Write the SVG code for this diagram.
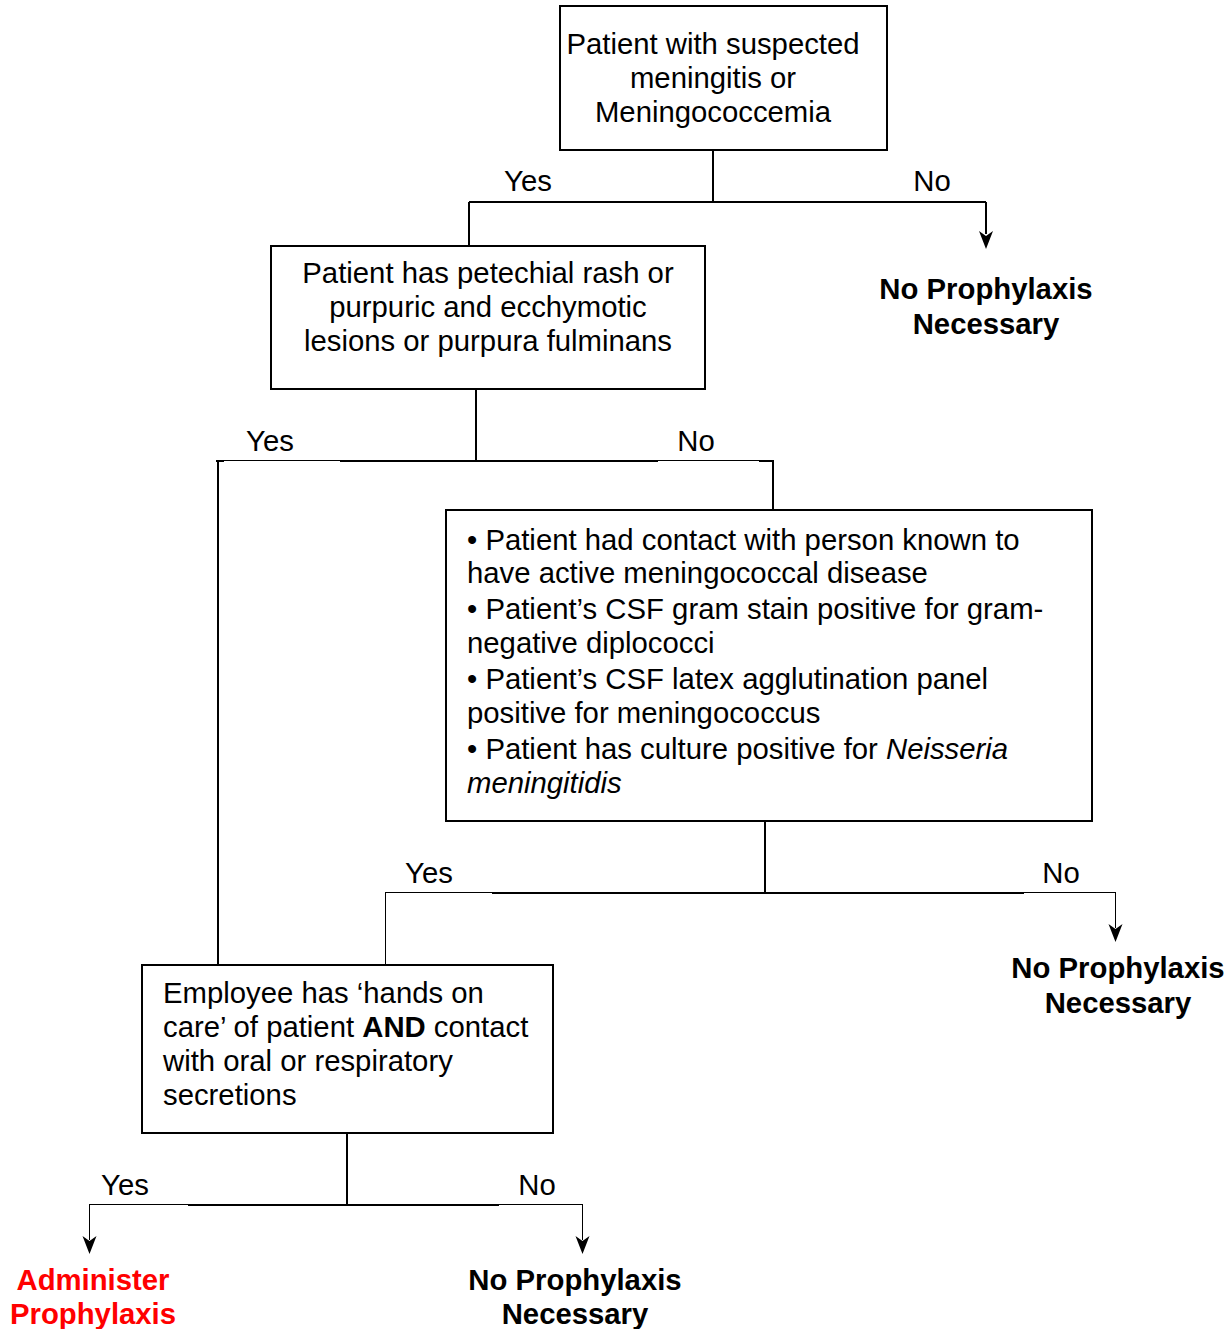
<svg xmlns="http://www.w3.org/2000/svg" width="1229" height="1329" viewBox="0 0 1229 1329">
<style>
text{font-family:"Liberation Sans",Arial,sans-serif;font-size:29.3px;fill:#000}
.c{text-anchor:middle}
.b{font-weight:bold}
.r{fill:#ff0000}
.box{fill:#fff;stroke:#000;stroke-width:2}
.k{stroke:#000;stroke-width:2;fill:none}
.t{stroke:#000;stroke-width:1;fill:none}
.ah{fill:#000}
</style>
<g id="connectors">
<path class="k" d="M713,150 V202 M469,202 H986 M469,202 V246"/>
<path class="k" d="M986,202 V234"/>
<path class="ah" d="M979,231 L986,249 L993,231 L986,236 Z"/>
<path class="k" d="M476,389 V461 M340,461 H658 M216,461 H224 M759,461 H774 M773,461 V510"/>
<path class="t" d="M224,460.5 H340 M658,460.5 H759"/>
<path class="k" d="M218,461 V965"/>
<path class="k" d="M765,821 V893 M492,893 H1024"/>
<path class="t" d="M385,892.5 H492 M1024,892.5 H1115.5 M385.5,892 V965 M1115.5,892 V928"/>
<path class="ah" d="M1108.5,924 L1115.5,942 L1122.5,924 L1115.5,929 Z"/>
<path class="k" d="M347,1133 V1205 M188,1205 H499"/>
<path class="t" d="M89,1204.5 H188 M499,1204.5 H582.5 M89.5,1204 V1240 M582.5,1204 V1240"/>
<path class="ah" d="M82.5,1236 L89.5,1254 L96.5,1236 L89.5,1241 Z"/>
<path class="ah" d="M575.5,1236 L582.5,1254 L589.5,1236 L582.5,1241 Z"/>
<text x="528" y="191" class="c">Yes</text>
<text x="932" y="191" class="c">No</text>
<text x="270" y="451" class="c">Yes</text>
<text x="696" y="451" class="c">No</text>
<text x="429" y="883" class="c">Yes</text>
<text x="1061" y="883" class="c">No</text>
<text x="125" y="1195" class="c">Yes</text>
<text x="537" y="1195" class="c">No</text>
</g>
<g id="n1">
<rect class="box" x="560" y="6" width="327" height="144"/>
<text x="713" y="54" class="c">Patient with suspected</text>
<text x="713" y="88" class="c">meningitis or</text>
<text x="713" y="122" class="c">Meningococcemia</text>
</g>
<g id="n2">
<rect class="box" x="271" y="246" width="434" height="143"/>
<text x="488" y="283" class="c">Patient has petechial rash or</text>
<text x="488" y="317" class="c">purpuric and ecchymotic</text>
<text x="488" y="351" class="c">lesions or purpura fulminans</text>
</g>
<g id="n3">
<text x="986" y="299" class="c b">No Prophylaxis</text>
<text x="986" y="334" class="c b">Necessary</text>
</g>
<g id="n4">
<rect class="box" x="446" y="510" width="646" height="311"/>
<text x="467" y="550">• Patient had contact with person known to</text>
<text x="467" y="583">have active meningococcal disease</text>
<text x="467" y="619">• Patient’s CSF gram stain positive for gram-</text>
<text x="467" y="653">negative diplococci</text>
<text x="467" y="689">• Patient’s CSF latex agglutination panel</text>
<text x="467" y="723">positive for meningococcus</text>
<text x="467" y="759">• Patient has culture positive for <tspan font-style="italic">Neisseria</tspan></text>
<text x="467" y="793" font-style="italic">meningitidis</text>
</g>
<g id="n5">
<text x="1118" y="978" class="c b">No Prophylaxis</text>
<text x="1118" y="1013" class="c b">Necessary</text>
</g>
<g id="n6">
<rect class="box" x="142" y="965" width="411" height="168"/>
<text x="163" y="1003">Employee has ‘hands on</text>
<text x="163" y="1037">care’ of patient <tspan class="b">AND</tspan> contact</text>
<text x="163" y="1071">with oral or respiratory</text>
<text x="163" y="1105">secretions</text>
</g>
<g id="n7">
<text x="93" y="1290" class="c b r">Administer</text>
<text x="93" y="1324" class="c b r">Prophylaxis</text>
</g>
<g id="n8">
<text x="575" y="1290" class="c b">No Prophylaxis</text>
<text x="575" y="1324" class="c b">Necessary</text>
</g>
</svg>
